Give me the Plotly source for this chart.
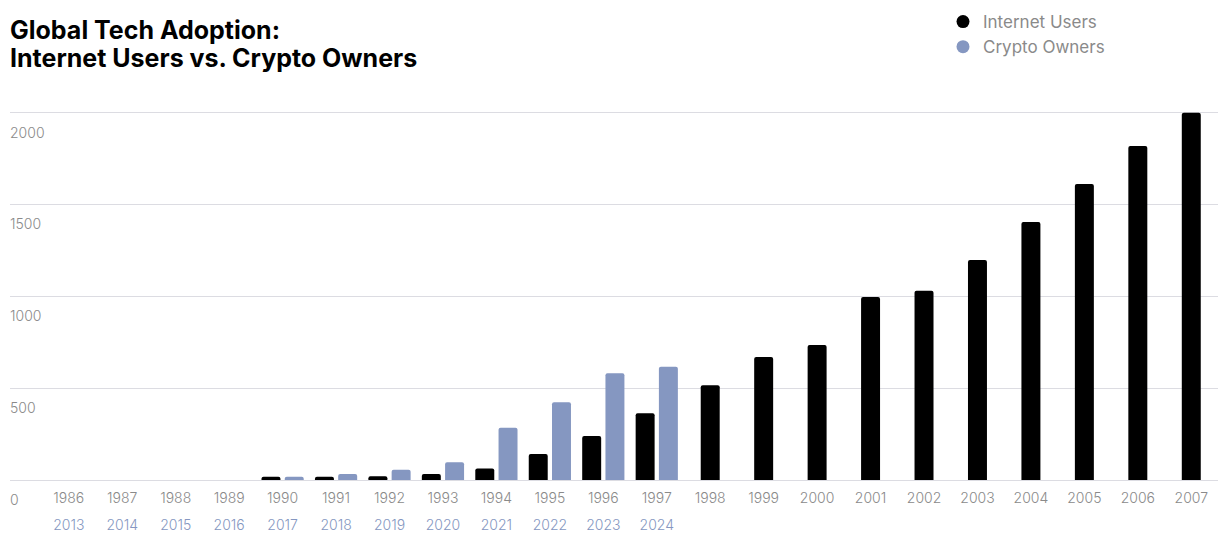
import plotly.graph_objects as go

internet_years = [str(y) for y in range(1986, 2008)]
internet_users = [0, 0, 0, 0, 18, 18, 20, 33, 63, 142, 240, 363, 516, 670, 735, 997, 1031, 1198, 1405, 1612, 1819, 2000]

crypto_years = [str(y) for y in range(2013, 2025)]
crypto_owners = [0, 0, 0, 0, 18, 33, 56, 96, 284, 423, 581, 617]

y_ticks = [0, 500, 1000, 1500, 2000]

title_lines = ["Global Tech Adoption:", "Internet Users vs. Crypto Owners"]

BLACK = "#000000"
BLUE = "#8597C1"
GRAY = "#8a8a8a"
FONT = "Inter"

bar_w = 0.355
gap = 0.08
n_paired = len(crypto_years)
internet_offsets = [(-bar_w - gap / 2) if i < n_paired else (-bar_w / 2) for i in range(len(internet_years))]

fig = go.Figure()
fig.add_trace(go.Bar(
    x=internet_years, y=internet_users, name="Internet Users",
    marker=dict(color=BLACK, line=dict(width=0)),
    width=bar_w, offset=internet_offsets, showlegend=False,
    xaxis="x", yaxis="y",
))
fig.add_trace(go.Bar(
    x=crypto_years, y=crypto_owners, name="Crypto Owners",
    marker=dict(color=BLUE, line=dict(width=0)),
    width=bar_w, offset=gap / 2, showlegend=False,
    xaxis="x2", yaxis="y2",
))
# legend entries with circle markers
fig.add_trace(go.Scatter(x=[None], y=[None], mode="markers", name="Internet Users",
                         marker=dict(symbol="circle", size=13, color=BLACK)))
fig.add_trace(go.Scatter(x=[None], y=[None], mode="markers", name="Crypto Owners",
                         marker=dict(symbol="circle", size=13, color=BLUE)))

rng = [-1.1, 21.5]
y_range = [0, 2020]
plot_top, plot_bottom = 109, 480
plot_h = plot_bottom - plot_top


def paper_y(px):
    return (plot_bottom - px) / plot_h


tickfont = dict(family=FONT, size=14, color=GRAY, weight=300)
title_annotations = [
    dict(
        text="<b>%s</b>" % line,
        font=dict(family=FONT, size=25, color="#000000"),
        xref="paper", x=0, xanchor="left",
        yref="paper", y=paper_y(cy), yanchor="middle",
        align="left", showarrow=False, xshift=-2,
    )
    for line, cy in zip(title_lines, [30, 58])
]

fig.update_layout(
    width=1220, height=533,
    margin=dict(l=10, r=2, t=plot_top, b=533 - plot_bottom, autoexpand=False),
    paper_bgcolor="white", plot_bgcolor="white",
    barcornerradius=2,
    font=dict(family=FONT, color=GRAY, size=14),
    annotations=title_annotations,
    legend=dict(
        x=(943 - 10) / 1208, xanchor="left", xref="paper",
        y=paper_y(4), yanchor="top", yref="paper",
        font=dict(family=FONT, size=17, color=GRAY),
        bgcolor="rgba(0,0,0,0)", itemwidth=30,
    ),
    xaxis=dict(
        type="category", categoryorder="array", categoryarray=internet_years,
        range=rng, showgrid=False, zeroline=False, showline=False, ticks="",
        tickfont=tickfont, ticklabelstandoff=8,
    ),
    xaxis2=dict(
        type="category", categoryorder="array", categoryarray=crypto_years,
        range=rng, overlaying="x", side="bottom", anchor="y",
        showgrid=False, zeroline=False, showline=False, ticks="",
        tickfont=dict(tickfont, color=BLUE),
        ticklabelstandoff=35,
    ),
    yaxis=dict(
        range=y_range, tickvals=y_ticks,
        showgrid=True, gridcolor="#dcdce2", gridwidth=1,
        zeroline=True, zerolinecolor="#dcdce2", zerolinewidth=1,
        showline=False, ticks="", showticklabels=False,
    ),
    yaxis2=dict(
        range=y_range, overlaying="y", side="right", anchor="free", position=0,
        tickvals=y_ticks, ticktext=[str(v) for v in y_ticks],
        showgrid=False, zeroline=False, showline=False, ticks="",
        ticklabelposition="outside", ticklabelshift=20, ticklabelstandoff=-1,
        tickfont=tickfont,
    ),
)

fig.write_html("out.html")
